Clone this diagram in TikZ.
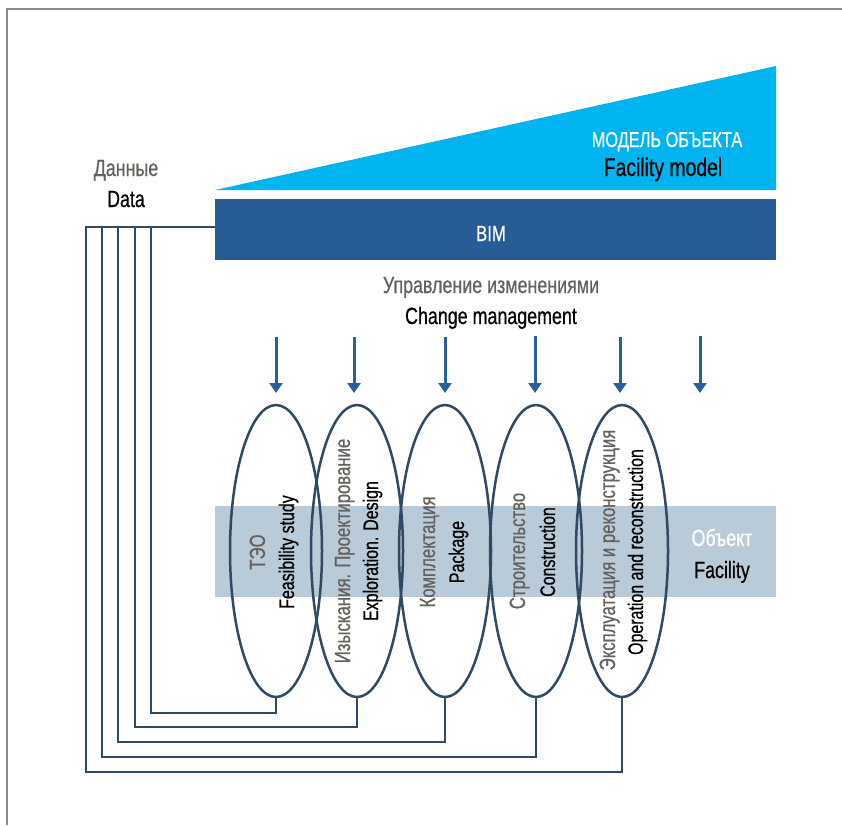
\documentclass[tikz,border=0pt]{standalone}
\usepackage{fontspec}
\setmainfont[FakeStretch=0.76,FakeBold=0.6]{Liberation Sans}
\usetikzlibrary{shapes.geometric,arrows.meta}
\definecolor{cyanm}{HTML}{00B4EF}
\definecolor{bimc}{HTML}{285C96}
\definecolor{bandc}{HTML}{B9CAD8}
\definecolor{strokec}{HTML}{2F4A62}
\definecolor{arrowc}{HTML}{2A5F9E}
\definecolor{graytxt}{HTML}{65615C}
\definecolor{framec}{HTML}{8E8B88}
\tikzset{
  txt/.style={inner sep=0pt, anchor=base, font=\fontsize{22}{26}\selectfont},
  big/.style={font=\fontsize{23.5}{28}\selectfont},
  gtxt/.style={txt, text=graytxt},
  btxt/.style={txt, text=black},
  wtxt/.style={txt, text=white},
  vg/.style={gtxt, rotate=90},
  vb/.style={btxt, rotate=90, font=\fontsize{21}{26}\selectfont},
  phase/.style={ellipse, draw=strokec, line width=2.5pt, minimum width=92pt, minimum height=292pt, inner sep=0pt},
  conn/.style={draw=strokec, line width=1.7pt},
  chg/.style={draw=arrowc, line width=3pt, -{Triangle[width=13pt,length=10pt]}},
}
\begin{document}
\begin{tikzpicture}[x=1pt,y=-1pt]
\useasboundingbox (0,0) rectangle (842,825);
% frame
\draw[framec, line width=1.4pt] (7,825) -- (7,9) -- (842,9);
% facility model wedge
\fill[cyanm] (215,190) -- (776,66) -- (776,190) -- cycle;
\node[wtxt, font=\fontsize{21.5}{26}\selectfont] (modelru) at (667,147) {МОДЕЛЬ ОБЪЕКТА};
\node[btxt, font=\fontsize{25.5}{30}\selectfont] (modelen) at (663,176) {Facility model};
% BIM bar
\node[fill=bimc, minimum width=561pt, minimum height=61pt, anchor=north west, inner sep=0pt] (bim) at (215,199) {};
\node[wtxt] (bimtxt) at (491,241) {BIM};
% data labels
\node[gtxt, big] (dataru) at (126,176) {Данные};
\node[btxt, big] (dataen) at (126,207) {Data};
% change management
\node[gtxt, big] (chru) at (491,293) {Управление изменениями};
\node[btxt, big] (chen) at (491,324) {Change management};
% facility band
\fill[bandc] (215,506) rectangle (776,597);
\node[wtxt, big] (facru) at (722,546) {Объект};
\node[btxt, big] (facen) at (722,578) {Facility};
% arrows
\foreach \i/\x/\t in {1/276/337,2/354/337,3/445/337,4/535/336,5/620/337,6/700/336}{
  \coordinate (as\i) at (\x,\t);
  \coordinate (ae\i) at (\x,393);
  \draw[chg] (as\i) -- (ae\i);
}
% phases
\node[phase] (e1) at (276,551) {};
\node[phase] (e2) at (357,551) {};
\node[phase] (e3) at (445,551) {};
\node[phase] (e4) at (536,551) {};
\node[phase] (e5) at (622,551) {};
\node[vg] (t1r) at (265,552) {ТЭО};
\node[vb] (t1e) at (294,552) {Feasibility study};
\node[vg] (t2r) at (350,551) {Изыскания. Проектирование};
\node[vb] (t2e) at (378,551) {Exploration. Design};
\node[vg] (t3r) at (435,552) {Комплектация};
\node[vb] (t3e) at (464,552) {Package};
\node[vg] (t4r) at (525,551) {Строительство};
\node[vb] (t4e) at (555,552) {Construction};
\node[vg] (t5r) at (615,550) {Эксплуатация и реконструкция};
\node[vb] (t5e) at (643,552) {Operation and reconstruction};
% data connectors
\coordinate (din) at (215,227);
\coordinate (c1) at (151,713);
\coordinate (c2) at (135,727);
\coordinate (c3) at (118,742);
\coordinate (c4) at (102,757);
\coordinate (c5) at (86,772);
\draw[conn] (e1.south) |- (c1) |- (din);
\draw[conn] (e2.south) |- (c2) |- (din);
\draw[conn] (e3.south) |- (c3) |- (din);
\draw[conn] (e4.south) |- (c4) |- (din);
\draw[conn] (e5.south) |- (c5) |- (din);
\end{tikzpicture}
\end{document}
